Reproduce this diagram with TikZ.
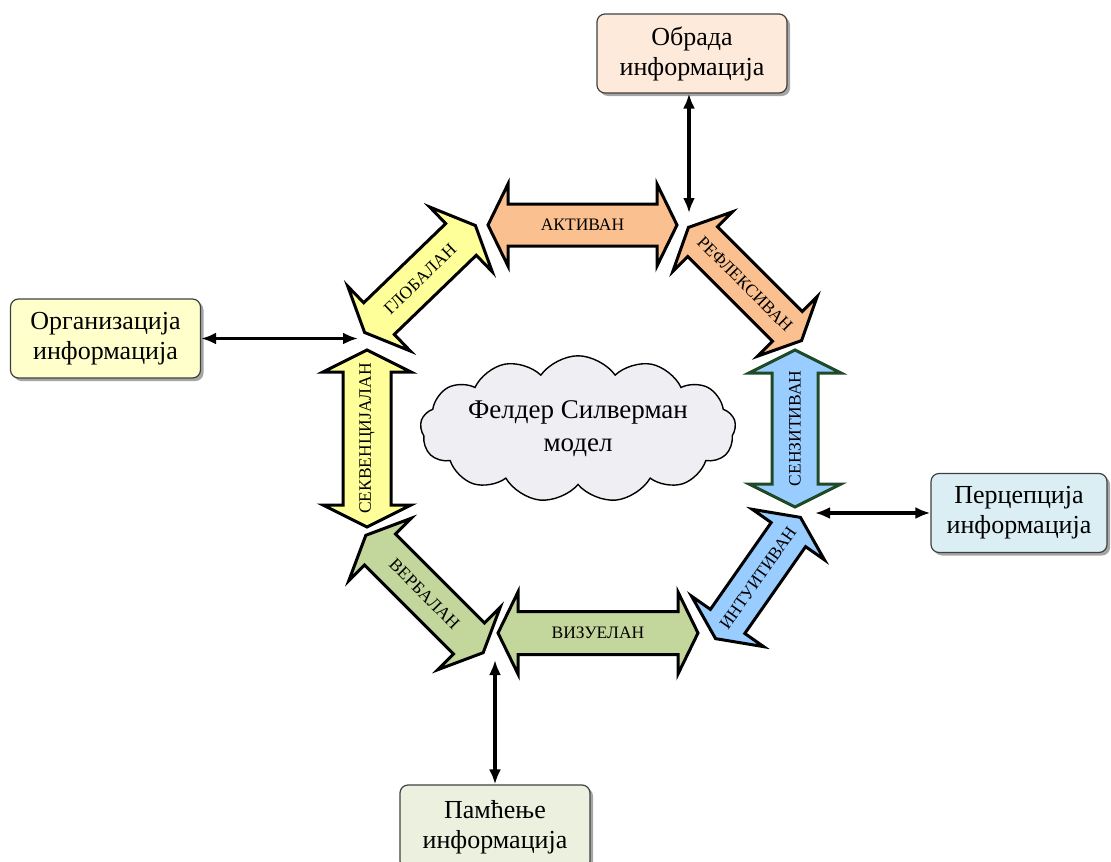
\documentclass[tikz,border=0pt]{standalone}
\usepackage{fontspec}
\setmainfont{Liberation Serif}
\usetikzlibrary{shapes.symbols,shadows,arrows.meta}

\definecolor{peachbox}{HTML}{FDEADA}
\definecolor{yellowbox}{HTML}{FFFFCC}
\definecolor{bluebox}{HTML}{DAEEF3}
\definecolor{greenbox}{HTML}{EBF1DE}
\definecolor{orangearr}{HTML}{FAC090}
\definecolor{yellowarr}{HTML}{FFFF99}
\definecolor{greenarr}{HTML}{C3D69B}
\definecolor{bluearr}{HTML}{99CCFF}
\definecolor{darkgreen}{HTML}{1E4A28}
\definecolor{cloudfill}{HTML}{EFEEF3}

\tikzset{
  infobox/.style={draw=black!75, line width=1.2pt, rounded corners=8pt,
    minimum width=190pt, minimum height=79pt, align=center,
    font=\fontsize{26}{30}\selectfont,
    drop shadow={shadow xshift=3pt, shadow yshift=-3pt, fill=black!50, opacity=0.7}},
  link/.style={line width=3.2pt,
    {Latex[length=15pt,width=12pt]}-{Latex[length=15pt,width=12pt]}},
  arrowlabel/.style={font=\fontsize{17.5}{20}\selectfont, inner sep=0pt},
  blockarrow/.style={line width=3pt, line join=miter, miter limit=10},
  % double-headed block arrow along the local x axis:
  % half length, half head width, half shaft width, head length
  pics/dblarrow/.style n args={4}{code={
    \path[pic actions] (-#1,0) -- (-#1+#4,#2) -- (-#1+#4,#3) -- (#1-#4,#3)
      -- (#1-#4,#2) -- (#1,0) -- (#1-#4,-#2) -- (#1-#4,-#3)
      -- (-#1+#4,-#3) -- (-#1+#4,-#2) -- cycle;
  }},
}

\begin{document}
\begin{tikzpicture}[x=1pt, y=-1pt]
\useasboundingbox (0,0) rectangle (1111,862);
\clip (0,0) rectangle (1111,862);

% central cloud
\node[cloud, cloud puffs=13, cloud puff arc=110, aspect=2.8,
      draw=black, line width=1.4pt, fill=cloudfill, inner sep=0pt,
      minimum width=258pt, minimum height=80pt, align=center,
      font=\fontsize{27}{33}\selectfont] (model) at (578,429)
      {Фелдер Силверман\\модел};

% ring of block arrows
\pic[fill=orangearr, draw=black, blockarrow] at (582.5,225) {dblarrow={94.5}{41}{21}{20}};
\node[arrowlabel] (aktivan) at (582.5,225) {АКТИВАН};

\pic[fill=orangearr, draw=black, blockarrow, rotate=-45] at (745,284) {dblarrow={80}{42}{21}{20}};
\node[arrowlabel, rotate=-45] (refleksivan) at (745,284) {РЕФЛЕКСИВАН};

\pic[fill=bluearr, draw=darkgreen, blockarrow, rotate=90] at (795,428.5) {dblarrow={78.5}{46}{23}{23}};
\node[arrowlabel, rotate=90] (senzitivan) at (795,428.5) {СЕНЗИТИВАН};

\pic[fill=bluearr, draw=black, blockarrow, rotate=55] at (758,578) {dblarrow={74}{44}{21}{21}};
\node[arrowlabel, rotate=55] (intuitivan) at (758,578) {ИНТУИТИВАН};

\pic[fill=greenarr, draw=black, blockarrow] at (598,633) {dblarrow={100}{41}{21.5}{20}};
\node[arrowlabel] (vizuelan) at (598,633) {ВИЗУЕЛАН};

\pic[fill=greenarr, draw=black, blockarrow, rotate=-45] at (424.5,594) {dblarrow={83}{44}{22}{20}};
\node[arrowlabel, rotate=-45] (verbalan) at (424.5,594) {ВЕРБАЛАН};

\pic[fill=yellowarr, draw=black, blockarrow, rotate=90] at (367,438.5) {dblarrow={88.5}{44}{24}{22}};
\node[arrowlabel, rotate=90] (sekvencijalan) at (367,438.5) {СЕКВЕНЦИЈАЛАН};

\pic[fill=yellowarr, draw=black, blockarrow, rotate=44] at (420,279) {dblarrow={77}{45}{22}{20}};
\node[arrowlabel, rotate=44] (globalan) at (420,279) {ГЛОБАЛАН};

% information boxes
\node[infobox, fill=peachbox]  (obrada)     at (692,53.5)  {Обрада\\информација};
\node[infobox, fill=yellowbox] (organizacija) at (105.5,338.5) {Организација\\информација};
\node[infobox, fill=bluebox, minimum width=176pt] (percepcija) at (1019,513) {Перцепција\\информација};
\node[infobox, fill=greenbox, minimum height=84pt]  (pamcenje)   at (495,827)  {Памћење\\информација};

% gaps in the ring where the links end
\coordinate (gapNE) at (689,213);
\coordinate (gapW)  at (358,338.5);
\coordinate (gapE)  at (815,513);
\coordinate (gapS)  at (495,660);

% links
\draw[link] (gapNE |- obrada.south) -- (gapNE);
\draw[link] (organizacija.east) -- (gapW);
\draw[link] (gapE) -- (percepcija.west);
\draw[link] (pamcenje.north) -- (gapS);
\end{tikzpicture}
\end{document}
